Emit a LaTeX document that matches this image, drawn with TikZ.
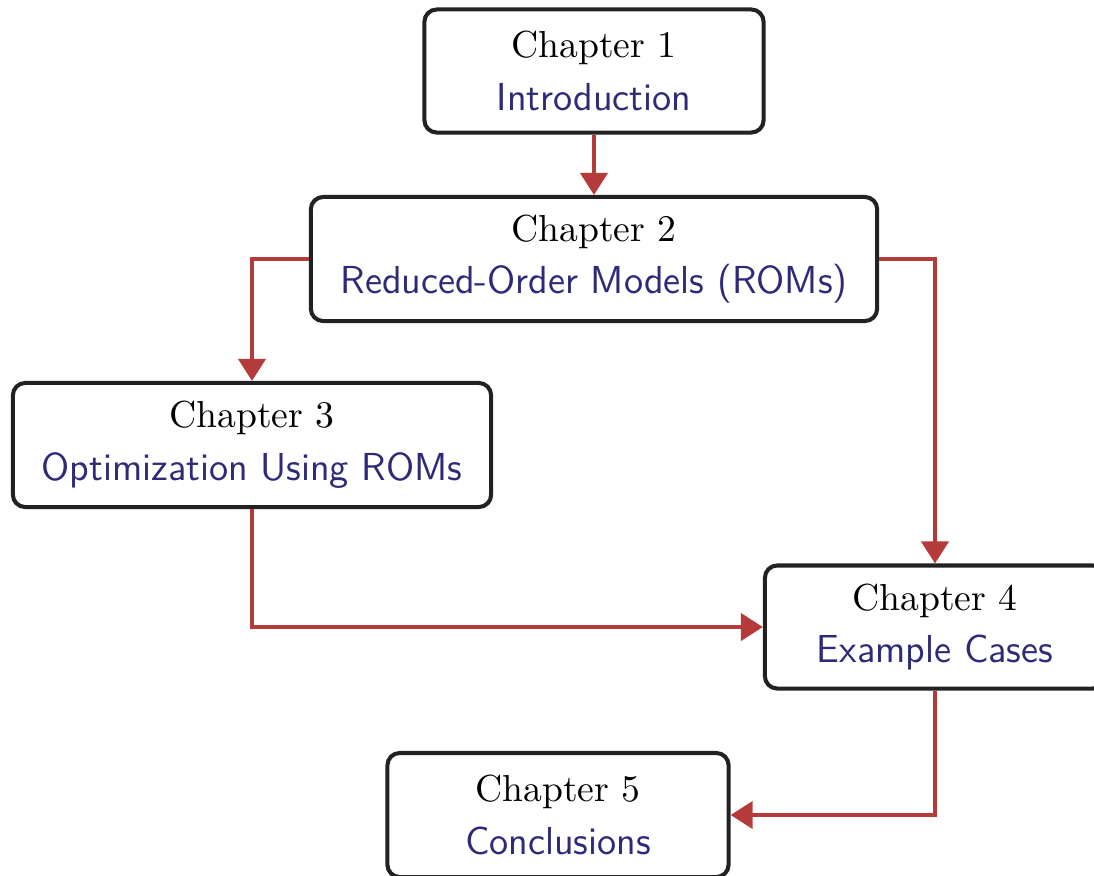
\documentclass[tikz,border=0pt]{standalone}
\usepackage{tikz}
\usetikzlibrary{arrows.meta}
\definecolor{chapblue}{HTML}{2E2A78}
\definecolor{linkred}{HTML}{B53A3A}
\definecolor{boxline}{HTML}{222222}
\newcommand{\chaptitle}[1]{{\fontsize{11.1}{15}\selectfont\sffamily\color{chapblue}#1}}

\begin{document}
\begin{tikzpicture}[x=0.01cm, y=-0.01cm,
		chapbox/.style = {shape=rectangle, draw=boxline, line width=1.15pt, rounded corners=3.5pt,
			align=center, fill=white, inner sep=0pt,
			font=\fontsize{10.7}{15}\selectfont},
		link/.style = {draw=linkred, line width=1.15pt,
			-{Triangle[length=0.22cm, width=0.27cm]}}]
		\useasboundingbox (0,0) rectangle (1094,875);
		\node[chapbox, minimum width=3.39cm, minimum height=1.23cm] (ch1) at (594,71)
			{Chapter 1\\\chaptitle{Introduction}};
		\node[chapbox, minimum width=5.66cm, minimum height=1.24cm] (ch2) at (594,259)
			{Chapter 2\\\chaptitle{Reduced-Order Models (ROMs)}};
		\node[chapbox, minimum width=4.78cm, minimum height=1.24cm] (ch3) at (252,445)
			{Chapter 3\\\chaptitle{Optimization Using ROMs}};
		\node[chapbox, minimum width=3.40cm, minimum height=1.23cm] (ch4) at (935,627)
			{Chapter 4\\\chaptitle{Example Cases}};
		\node[chapbox, minimum width=3.41cm, minimum height=1.24cm] (ch5) at (558,815)
			{Chapter 5\\\chaptitle{Conclusions}};
		% links between chapters
		\draw[link] (ch1.south) -- (ch2.north);
		\draw[link] (ch2.west) -| (ch3.north);
		\draw[link] (ch2.east) -| (ch4.north);
		\draw[link] (ch3.south) |- (ch4.west);
		\draw[link] (ch4.south) |- (ch5.east);
	\end{tikzpicture}
\end{document}
